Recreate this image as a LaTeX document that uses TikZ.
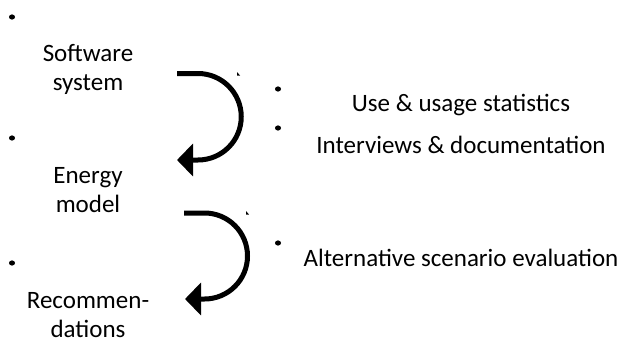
\documentclass[tikz,border=0pt]{standalone}
\usepackage{fontspec}
\setmainfont{Carlito}
\usetikzlibrary{arrows.meta}
\begin{document}
\begin{tikzpicture}[x=1pt,y=-1pt,
  lbl/.style={inner sep=0pt,align=center,font=\fontsize{25}{29}\selectfont},
  curvearrow/.style={line width=5pt,-{Triangle[length=16pt,width=32pt]}},
  blt/.style={fill=black},
  speck/.style={fill=black}]
\useasboundingbox (0,0) rectangle (621,343);
% left bullets
\fill[blt] (12,17) ellipse [x radius=3, y radius=2.6];
\node[lbl] (sw) at (88,69.5) {Software\\system};
\fill[blt] (12,138) ellipse [x radius=3, y radius=2.6];
\node[lbl] (em) at (88,190) {Energy\\model};
\fill[blt] (12,263) ellipse [x radius=3, y radius=2.6];
\node[lbl] (rec) at (88,315) {Recommen-\\dations};
% right bullets and texts
\fill[blt] (278,89) ellipse [x radius=3, y radius=2.6];
\fill[blt] (278,128) ellipse [x radius=3, y radius=2.6];
\fill[blt] (278,243) ellipse [x radius=3, y radius=2.6];
\node[lbl] (use) at (461,105) {Use \& usage statistics};
\node[lbl] (int) at (461,145) {Interviews \& documentation};
\node[lbl] (alt) at (461,258) {Alternative scenario evaluation};
% arrows
\coordinate (a1s) at (177,73.5);
\coordinate (a1e) at (177,160);
\draw[curvearrow] (a1s) -- (198,73.5) arc[start angle=-90,end angle=90,radius=43.25] -- (a1e);
\coordinate (a2s) at (184,213);
\coordinate (a2e) at (185,299);
\draw[curvearrow] (a2s) -- (204.5,213) arc[start angle=-90,end angle=90,radius=43] -- (a2e);
% small specks
\fill[speck] (237,72) -- (240,75.5) -- (237,75.5) -- cycle;
\fill[speck] (246,211) -- (249,214.5) -- (246,214.5) -- cycle;
\end{tikzpicture}
\end{document}
